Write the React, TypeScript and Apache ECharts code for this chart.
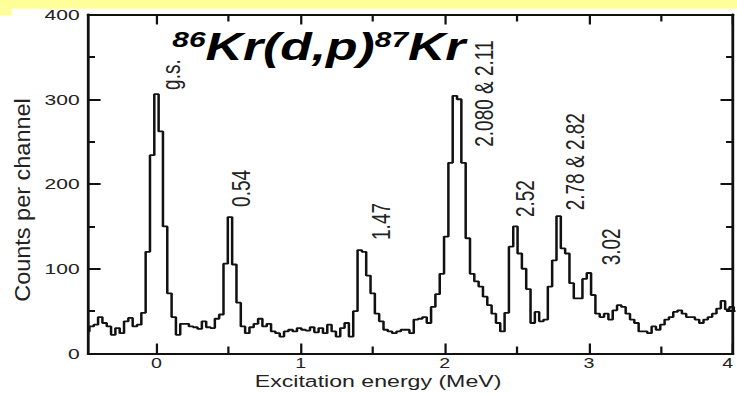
import React, { useEffect, useRef } from 'react';
import * as echarts from 'echarts';

// ---- data ----
const channelStart = -0.48; // MeV, centre of first channel
const channelWidth = 0.03; // MeV per channel
const counts = [
  26, 32, 34, 43, 36, 32, 22, 30, 24, 38,
  42, 32, 34, 48, 120, 234, 306, 262, 150, 71,
  43, 22, 35, 35, 32, 31, 29, 38, 31, 30,
  41, 46, 106, 161, 105, 60, 32, 24, 31, 35,
  41, 32, 35, 26, 24, 20, 26, 28, 26, 30,
  28, 27, 31, 25, 30, 24, 34, 26, 20, 30,
  36, 20, 50, 122, 120, 92, 71, 47, 38, 28,
  26, 24, 26, 28, 28, 24, 40, 41, 43, 36,
  55, 70, 94, 138, 225, 304, 300, 225, 136, 94,
  85, 79, 67, 57, 47, 36, 26, 48, 126, 150,
  118, 100, 76, 36, 49, 38, 40, 79, 110, 162,
  124, 118, 83, 65, 65, 88, 95, 69, 47, 43,
  47, 40, 51, 57, 55, 47, 40, 36, 26, 26,
  24, 32, 28, 34, 40, 43, 49, 51, 47, 43,
  43, 40, 36, 40, 43, 47, 53, 62, 52, 55,
  50,
];
const xMin = -0.475;
const xMax = 4;
const xTickValues = [0, 1, 2, 3, 4];
const xMinorTickValues = [0.5, 1.5, 2.5, 3.5];
const yMin = 0;
const yMax = 400;
const yTickValues = [0, 100, 200, 300, 400];
const yMinorTickValues = [50, 150, 250, 350];
const peakLabels = ['g.s.', '0.54', '1.47', '2.080 & 2.11', '2.52', '2.78 & 2.82', '3.02'];
const peakLabelEnergy = [0.1, 0.588, 1.556, 2.27, 2.554, 2.9, 3.149];
const peakLabelCount = [311, 173, 134, 244, 161, 169, 104];
const xTitle = 'Excitation energy (MeV)';
const yTitle = 'Counts per channel';

// ---- layout ----
const FULL_W = 737;
const H = 394;
const W = 526;
const SX = FULL_W / W;
const font = '"Liberation Sans", Arial, Helvetica, sans-serif';
const ink = '#111';
const textInk = '#222';

function xAxisDef(position: 'top' | 'bottom', major: boolean) {
  return {
    type: 'value',
    min: xMin,
    max: xMax,
    position,
    axisLine: { show: major, onZero: false, lineStyle: { color: ink, width: 2 } },
    axisTick: {
      show: true,
      inside: true,
      length: major ? 10 : 7,
      customValues: major ? xTickValues : xMinorTickValues,
      lineStyle: { color: ink, width: 1.6 },
    },
    axisLabel: {
      show: major && position === 'bottom',
      customValues: xTickValues,
      alignMaxLabel: 'right',
      margin: 4.5,
      fontSize: 14,
      lineHeight: 11,
      color: textInk,
      fontFamily: font,
    },
    splitLine: { show: false },
  };
}

function yAxisDef(position: 'left' | 'right', major: boolean) {
  return {
    type: 'value',
    min: yMin,
    max: yMax,
    position,
    axisLine: { show: major, onZero: false, lineStyle: { color: ink, width: 2 } },
    axisTick: {
      show: true,
      inside: true,
      length: major ? 9 : 5,
      customValues: major ? yTickValues : yMinorTickValues,
      lineStyle: { color: ink, width: 2 },
    },
    axisLabel: {
      show: major && position === 'left',
      customValues: yTickValues,
      margin: 6,
      fontSize: 15,
      color: textInk,
      fontFamily: font,
    },
    splitLine: { show: false },
  };
}

export default function App() {
  const ref = useRef<HTMLDivElement>(null);

  useEffect(() => {
    if (!ref.current) return;
    const chart = echarts.init(ref.current, null, { renderer: 'svg', width: W, height: H });
    const data = counts.map((c, i) => [channelStart + i * channelWidth, c]);
    const titleStyle = { fontWeight: 'bold', fontStyle: 'italic', fontFamily: font };

    chart.setOption({
      animation: false,
      backgroundColor: '#ffffff',
      grid: {
        left: 62.8,
        right: 2.8,
        top: 14.5,
        bottom: 40.5,
        containLabel: false,
        outerBoundsMode: 'none',
      },
      xAxis: [
        xAxisDef('bottom', true),
        xAxisDef('bottom', false),
        xAxisDef('top', true),
        xAxisDef('top', false),
      ],
      yAxis: [
        yAxisDef('left', true),
        yAxisDef('left', false),
        yAxisDef('right', true),
        yAxisDef('right', false),
      ],
      series: [
        {
          type: 'line',
          name: 'counts',
          xAxisIndex: 0,
          yAxisIndex: 0,
          step: 'middle',
          symbol: 'none',
          showSymbol: false,
          clip: true,
          silent: true,
          data,
          lineStyle: { color: ink, width: 1.8 },
          markPoint: {
            silent: true,
            symbol: 'circle',
            symbolSize: 1,
            itemStyle: { color: 'rgba(0,0,0,0)' },
            label: {
              show: true,
              position: 'inside',
              rotate: 90,
              align: 'left',
              verticalAlign: 'middle',
              formatter: '{b}',
              fontSize: 19,
              color: textInk,
              fontFamily: font,
            },
            data: peakLabels.map((t, i) => ({
              name: t,
              coord: [peakLabelEnergy[i], peakLabelCount[i]],
            })),
          },
        },
      ],
      graphic: [
        {
          type: 'rect',
          silent: true,
          shape: { x: 0, y: 0, width: W, height: 8.5 },
          style: { fill: '#FFFF99' },
        },
        {
          type: 'rect',
          silent: true,
          shape: { x: 0, y: 0, width: 8.4, height: 15 },
          style: { fill: '#FFFF99' },
        },
        {
          type: 'text',
          silent: true,
          x: 123,
          y: 28,
          scaleX: 0.97,
          style: {
            text: '{s|86}{m|Kr(d,p)}{s|87}{m|Kr}',
            align: 'left',
            verticalAlign: 'top',
            fill: '#000',
            rich: {
              s: { ...titleStyle, fontSize: 22, lineHeight: 16, verticalAlign: 'top', fill: '#000' },
              m: { ...titleStyle, fontSize: 38, lineHeight: 38, verticalAlign: 'top', fill: '#000' },
            },
          },
        },
        {
          type: 'text',
          silent: true,
          x: 269.8,
          y: 381.5,
          style: {
            text: xTitle,
            fontSize: 16.5,
            lineHeight: 12,
            fontFamily: font,
            fill: textInk,
            align: 'center',
            verticalAlign: 'middle',
          },
        },
        {
          type: 'text',
          silent: true,
          x: 16.1,
          y: 200,
          rotation: Math.PI / 2,
          scaleY: 0.685,
          style: {
            text: yTitle,
            fontSize: 23.5,
            fontFamily: font,
            fill: textInk,
            align: 'center',
            verticalAlign: 'middle',
          },
        },
      ],
    });

    return () => {
      chart.dispose();
    };
  }, []);

  return (
    <div
      style={{
        position: 'fixed',
        left: 0,
        top: 0,
        width: FULL_W,
        height: H,
        overflow: 'hidden',
        background: '#ffffff',
      }}
    >
      <div
        ref={ref}
        style={{
          width: W,
          height: H,
          transform: `scaleX(${SX})`,
          transformOrigin: '0 0',
        }}
      />
    </div>
  );
}
